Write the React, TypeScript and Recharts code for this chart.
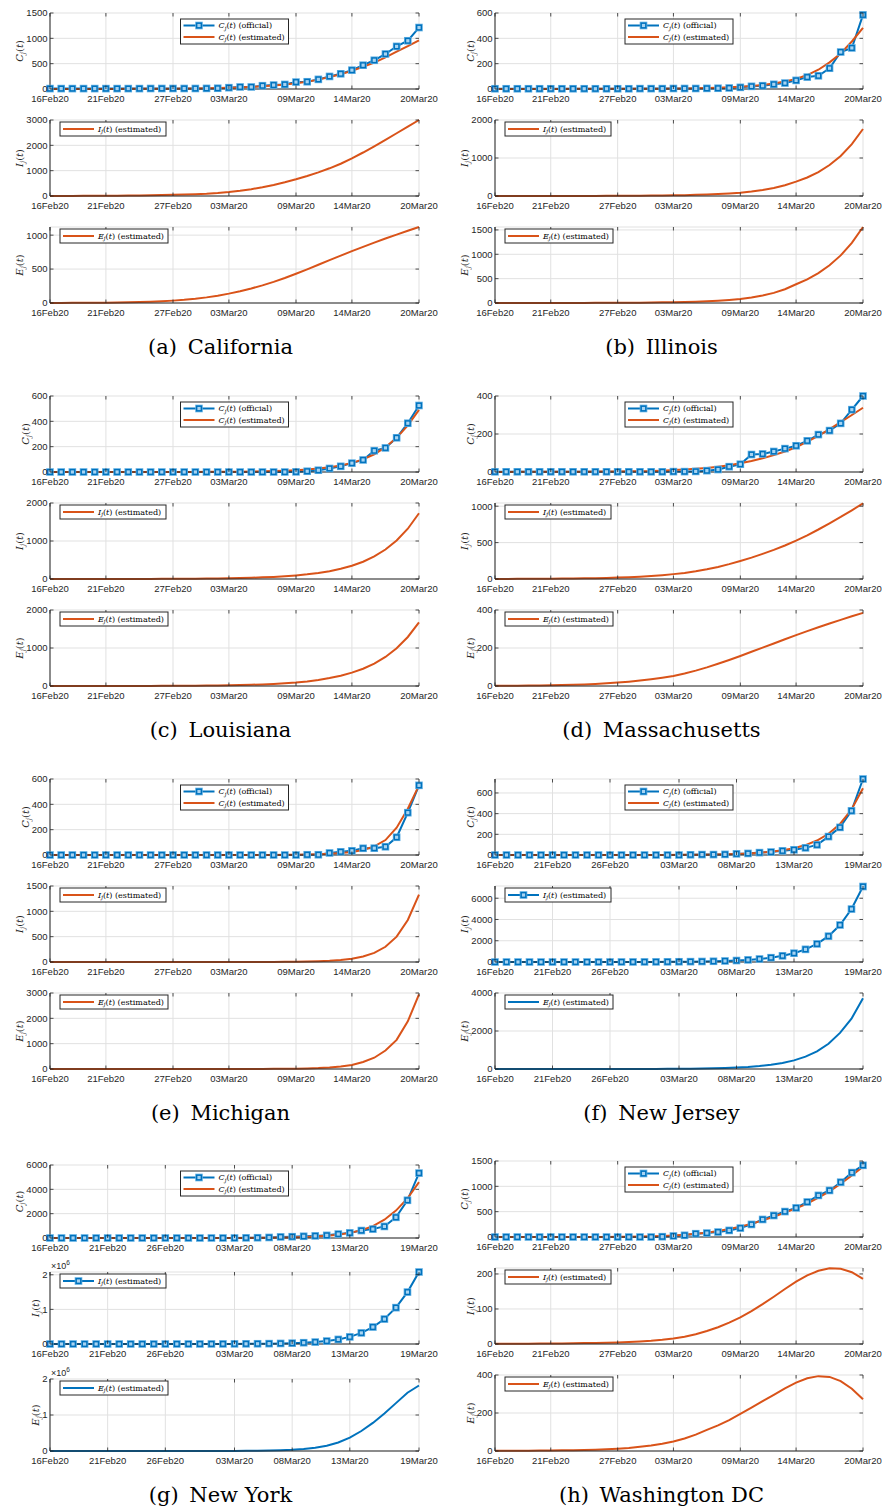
import React from 'react';
import { LineChart, Line, XAxis, YAxis, CartesianGrid } from 'recharts';

const BLUE = '#0072BD';
const ORANGE = '#D95319';
const INK = '#262626';
const GRID = '#e1e1e1';
const SANS = '"Liberation Sans", Arial, Helvetica, sans-serif';
const SERIF = '"DejaVu Serif", serif';

// categories
const DATES_20 = [
  '16Feb20', '17Feb20', '18Feb20', '19Feb20', '20Feb20', '21Feb20', '22Feb20', '23Feb20', '24Feb20',
  '25Feb20', '26Feb20', '27Feb20', '28Feb20', '29Feb20', '01Mar20', '02Mar20', '03Mar20', '04Mar20',
  '05Mar20', '06Mar20', '07Mar20', '08Mar20', '09Mar20', '10Mar20', '11Mar20', '12Mar20', '13Mar20',
  '14Mar20', '15Mar20', '16Mar20', '17Mar20', '18Mar20', '19Mar20', '20Mar20',
];
const DATES_19 = DATES_20.slice(0, 33);
const TICKS_20 = ['16Feb20', '21Feb20', '27Feb20', '03Mar20', '09Mar20', '14Mar20', '20Mar20'];
const TICKS_19 = ['16Feb20', '21Feb20', '26Feb20', '03Mar20', '08Mar20', '13Mar20', '19Mar20'];

// (a) California
const CA_C_OFF = [8, 8, 8, 8, 8, 8, 8, 8, 8, 10, 10, 10, 10, 10, 12, 15, 26, 40, 40, 65, 78, 90, 137, 143, 190, 248, 300, 372, 470, 567, 691, 841, 952, 1213];
const CA_C_EST = [1, 1, 1, 1, 2, 2, 2, 3, 3, 4, 5, 6, 8, 11, 15, 19, 25, 32, 42, 54, 70, 90, 115, 145, 185, 235, 290, 358, 440, 521, 626, 737, 845, 960];
const CA_I = [2, 3, 4, 6, 8, 10, 13, 17, 22, 28, 36, 46, 58, 72, 90, 118, 158, 208, 270, 346, 436, 541, 658, 788, 933, 1093, 1273, 1487, 1717, 1962, 2217, 2477, 2739, 3000];
const CA_E = [1, 1, 2, 3, 4, 5, 7, 10, 14, 19, 26, 35, 47, 63, 83, 108, 138, 173, 214, 260, 312, 369, 431, 496, 563, 631, 698, 764, 828, 890, 950, 1008, 1065, 1120];

// (b) Illinois
const IL_C_OFF = [2, 2, 2, 2, 2, 2, 2, 2, 2, 2, 2, 2, 2, 3, 3, 3, 4, 4, 4, 5, 6, 8, 13, 21, 26, 37, 47, 68, 94, 104, 164, 292, 324, 585];
const IL_C_EST = [0.3, 0.4, 0.5, 0.6, 0.7, 0.8, 0.9, 1, 1.1, 1.2, 1.3, 1.4, 1.5, 1.6, 2, 2.5, 3.2, 4.2, 5.6, 7.5, 10, 13.5, 18, 24, 32, 43, 59, 80, 110, 152, 210, 280, 375, 483];
const IL_I = [0.3, 0.4, 0.5, 0.7, 0.9, 1.1, 1.4, 1.8, 2.3, 3, 4, 5, 6.5, 8, 11, 14, 18, 23, 30, 39, 51, 67, 88, 118, 158, 211, 282, 377, 487, 630, 815, 1054, 1363, 1763];
const IL_E = [0.25, 0.3, 0.4, 0.55, 0.7, 0.9, 1.2, 1.6, 2, 2.6, 3.4, 4.5, 5.8, 7.5, 10, 13, 17, 22, 28, 37, 48, 63, 83, 113, 153, 208, 283, 385, 486, 613, 774, 977, 1233, 1560];

// (c) Louisiana
const LA_C_OFF = [0, 0, 0, 0, 0, 0, 0, 0, 0, 0, 0, 0, 0, 0, 0, 0, 0, 0, 0, 0, 0, 0, 1, 6, 14, 28, 45, 70, 95, 168, 190, 270, 385, 525];
const LA_C_EST = [0.1, 0.1, 0.1, 0.1, 0.1, 0.2, 0.2, 0.2, 0.3, 0.3, 0.4, 0.5, 0.6, 0.8, 1, 1.4, 1.9, 2.6, 3.6, 5, 7, 10, 14, 19, 27, 37, 52, 72, 100, 140, 196, 270, 368, 490];
const LA_I = [0.3, 0.4, 0.5, 0.65, 0.85, 1.1, 1.4, 1.9, 2.4, 3.1, 4, 5.3, 7, 9, 11.5, 15, 19, 25, 33, 43, 55, 72, 94, 122, 158, 206, 268, 348, 455, 594, 775, 1013, 1323, 1730];
const LA_E = [0.3, 0.4, 0.5, 0.65, 0.85, 1.1, 1.4, 1.8, 2.3, 3, 3.9, 5.1, 6.6, 8.6, 11, 14.5, 19, 25, 32, 42, 55, 71, 92, 120, 158, 208, 270, 351, 455, 590, 765, 993, 1290, 1675];

// (d) Massachusetts
const MA_C_OFF = [1, 1, 1, 1, 1, 1, 1, 1, 1, 1, 1, 1, 1, 1, 1, 1, 2, 2, 3, 7, 13, 28, 41, 92, 95, 108, 123, 138, 164, 197, 218, 256, 328, 400];
const MA_C_EST = [0.5, 0.6, 0.7, 0.8, 1, 1.2, 1.4, 1.6, 1.9, 2.2, 2.6, 3, 3.6, 4.3, 5, 7, 10, 13, 17, 21, 28, 36, 46, 58, 72, 89, 108, 130, 160, 190, 226, 262, 300, 338];
const MA_I = [1, 1.5, 2, 3, 4, 5, 6, 8, 10, 12, 15, 19, 25, 32, 41, 53, 67, 84, 106, 133, 166, 204, 248, 293, 345, 400, 460, 527, 600, 680, 765, 852, 944, 1040];
const MA_E = [1, 1, 1.5, 2, 3, 4, 5, 6.5, 8.5, 11, 14, 18, 23, 29, 36, 44, 53, 66, 81, 98, 117, 137, 158, 180, 202, 224, 246, 268, 289, 309, 329, 348, 367, 385];

// (e) Michigan
const MI_C_OFF = [0, 0, 0, 0, 0, 0, 0, 0, 0, 0, 0, 0, 0, 0, 0, 0, 0, 0, 0, 0, 0, 0, 0, 2, 2, 16, 25, 33, 53, 54, 65, 140, 334, 550];
const MI_C_EST = [0, 0, 0, 0, 0, 0, 0, 0, 0, 0, 0, 0.05, 0.05, 0.05, 0.1, 0.1, 0.15, 0.2, 0.3, 0.5, 0.8, 1.3, 2, 3.4, 5.5, 9, 15, 24, 40, 68, 118, 215, 365, 550];
const MI_I = [0.1, 0.1, 0.1, 0.1, 0.1, 0.1, 0.1, 0.1, 0.1, 0.1, 0.1, 0.1, 0.1, 0.1, 0.1, 0.2, 0.3, 0.5, 0.8, 1.2, 2, 3.3, 5.5, 9, 15, 24, 40, 65, 108, 180, 300, 500, 830, 1330];
const MI_E = [0.1, 0.1, 0.1, 0.1, 0.1, 0.1, 0.1, 0.1, 0.1, 0.1, 0.1, 0.1, 0.1, 0.1, 0.1, 0.4, 0.7, 1.1, 1.8, 3, 5, 8, 13, 22, 36, 60, 100, 160, 275, 445, 730, 1150, 1880, 2950];

// (f) New Jersey
const NJ_C_OFF = [0, 0, 0, 0, 0, 0, 0, 0, 0, 0, 0, 0, 0, 0, 0, 0, 0, 2, 4, 4, 6, 11, 15, 23, 29, 40, 50, 69, 98, 178, 267, 427, 735];
const NJ_C_EST = [0.1, 0.1, 0.1, 0.1, 0.1, 0.1, 0.1, 0.1, 0.1, 0.1, 0.2, 0.25, 0.35, 0.5, 0.7, 1, 1.5, 2.2, 3.2, 4.7, 6.8, 10, 14.5, 21, 31, 45, 66, 96, 140, 205, 300, 440, 645];
const NJ_I = [0.07, 0.1, 0.15, 0.2, 0.3, 0.45, 0.65, 0.9, 1.3, 1.9, 2.7, 3.8, 5.5, 8, 11, 16, 23, 33, 47, 68, 97, 138, 198, 283, 405, 580, 830, 1190, 1700, 2430, 3480, 4980, 7100];
const NJ_E = [0.04, 0.06, 0.08, 0.12, 0.17, 0.25, 0.35, 0.5, 0.7, 1, 1.5, 2.1, 3, 4.3, 6.2, 8.8, 12.6, 18, 26, 37, 53, 76, 108, 155, 222, 318, 455, 650, 930, 1330, 1900, 2650, 3720];

// (g) New York
const NY_C_OFF = [0, 0, 0, 0, 0, 0, 0, 0, 0, 0, 0, 0, 0, 0, 1, 1, 2, 11, 22, 44, 89, 106, 142, 173, 217, 326, 421, 613, 732, 950, 1700, 3100, 5335];
const NY_C_EST = [0.2, 0.2, 0.2, 0.2, 0.2, 0.2, 0.2, 0.2, 0.2, 0.3, 0.5, 0.7, 1.1, 1.7, 2.6, 4, 6, 9, 14, 22, 33, 50, 77, 118, 180, 275, 420, 640, 980, 1500, 2250, 3250, 4590];
const NY_I = [4, 6, 9, 14, 21, 32, 48, 72, 110, 165, 250, 380, 570, 860, 1300, 2000, 3000, 4600, 7000, 10500, 16000, 24500, 37000, 56000, 86000, 132000, 205000, 320000, 490000, 720000, 1050000, 1500000, 2080000];
const NY_E = [1, 1.5, 2.5, 4, 6, 10, 16, 26, 43, 72, 120, 200, 330, 540, 900, 1500, 2500, 4200, 7000, 11500, 19000, 32000, 53000, 88000, 145000, 235000, 370000, 555000, 780000, 1040000, 1330000, 1620000, 1820000];

// (h) Washington DC
const DC_C_OFF = [0, 0, 0, 0, 0, 0, 0, 0, 0, 0, 0, 0, 0, 0, 0, 6, 20, 33, 65, 78, 98, 130, 176, 248, 346, 424, 502, 574, 691, 821, 919, 1082, 1271, 1415];
const DC_C_EST = [0.2, 0.3, 0.4, 0.5, 0.6, 0.7, 0.8, 1, 1.1, 1.6, 2.4, 3.6, 5.5, 8.5, 13, 20, 30, 44, 62, 86, 118, 157, 205, 262, 328, 400, 480, 565, 660, 775, 900, 1050, 1215, 1385];
const DC_I = [0.5, 0.6, 0.7, 0.9, 1.1, 1.3, 1.6, 2, 2.5, 3, 3.7, 4.6, 5.7, 7.2, 9.2, 12, 16, 21, 28, 37, 48, 61, 76, 94, 114, 135, 157, 178, 196, 209, 216, 215, 205, 186];
const DC_E = [0.8, 1, 1.3, 1.6, 2, 2.6, 3.3, 4.2, 5.4, 7, 9, 12, 16, 22, 29, 38, 50, 66, 86, 111, 135, 163, 195, 228, 262, 296, 330, 360, 383, 394, 390, 368, 328, 272];

type Panel = {
  label: string;
  name: string;
  col: 0 | 1;
  row: number;
  dates: string[];
  ticks: string[];
  cOff: number[];
  cEst: number[];
  inf: number[];
  exp: number[];
  cMax: number;
  cTicks: number[];
  iMax: number;
  iTicks: number[];
  eMax: number;
  eTicks: number[];
  ieColor: string;
  iMarker: boolean;
  sci?: boolean;
  boxes?: [number, number][];
};

const PANELS: Panel[] = [
  { label: '(a)', name: 'California', col: 0, row: 0, dates: DATES_20, ticks: TICKS_20, cOff: CA_C_OFF, cEst: CA_C_EST, inf: CA_I, exp: CA_E,
    cMax: 1500, cTicks: [0, 500, 1000, 1500], iMax: 3000, iTicks: [0, 1000, 2000, 3000], eMax: 1120, eTicks: [0, 500, 1000], ieColor: ORANGE, iMarker: false },
  { label: '(b)', name: 'Illinois', col: 1, row: 0, dates: DATES_20, ticks: TICKS_20, cOff: IL_C_OFF, cEst: IL_C_EST, inf: IL_I, exp: IL_E,
    cMax: 600, cTicks: [0, 200, 400, 600], iMax: 2000, iTicks: [0, 1000, 2000], eMax: 1560, eTicks: [0, 500, 1000, 1500], ieColor: ORANGE, iMarker: false },
  { label: '(c)', name: 'Louisiana', col: 0, row: 1, dates: DATES_20, ticks: TICKS_20, cOff: LA_C_OFF, cEst: LA_C_EST, inf: LA_I, exp: LA_E,
    cMax: 600, cTicks: [0, 200, 400, 600], iMax: 2000, iTicks: [0, 1000, 2000], eMax: 2000, eTicks: [0, 1000, 2000], ieColor: ORANGE, iMarker: false },
  { label: '(d)', name: 'Massachusetts', col: 1, row: 1, dates: DATES_20, ticks: TICKS_20, cOff: MA_C_OFF, cEst: MA_C_EST, inf: MA_I, exp: MA_E,
    cMax: 400, cTicks: [0, 200, 400], iMax: 1044, iTicks: [0, 500, 1000], eMax: 400, eTicks: [0, 200, 400], ieColor: ORANGE, iMarker: false },
  { label: '(e)', name: 'Michigan', col: 0, row: 2, dates: DATES_20, ticks: TICKS_20, cOff: MI_C_OFF, cEst: MI_C_EST, inf: MI_I, exp: MI_E,
    cMax: 600, cTicks: [0, 200, 400, 600], iMax: 1500, iTicks: [0, 500, 1000, 1500], eMax: 3000, eTicks: [0, 1000, 2000, 3000], ieColor: ORANGE, iMarker: false },
  { label: '(f)', name: 'New Jersey', col: 1, row: 2, dates: DATES_19, ticks: TICKS_19, cOff: NJ_C_OFF, cEst: NJ_C_EST, inf: NJ_I, exp: NJ_E,
    cMax: 735, cTicks: [0, 200, 400, 600], iMax: 7150, iTicks: [0, 2000, 4000, 6000], eMax: 4000, eTicks: [0, 2000, 4000], ieColor: BLUE, iMarker: true },
  { label: '(g)', name: 'New York', col: 0, row: 3, dates: DATES_19, ticks: TICKS_19, cOff: NY_C_OFF, cEst: NY_C_EST, inf: NY_I, exp: NY_E,
    cMax: 6000, cTicks: [0, 2000, 4000, 6000], iMax: 2080000, iTicks: [0, 1000000, 2000000], eMax: 2000000, eTicks: [0, 1000000, 2000000],
    ieColor: BLUE, iMarker: true, sci: true, boxes: [[1165, 1238], [1272, 1344], [1379, 1451]] },
  { label: '(h)', name: 'Washington DC', col: 1, row: 3, dates: DATES_20, ticks: TICKS_20, cOff: DC_C_OFF, cEst: DC_C_EST, inf: DC_I, exp: DC_E,
    cMax: 1500, cTicks: [0, 500, 1000, 1500], iMax: 217, iTicks: [0, 100, 200], eMax: 400, eTicks: [0, 200, 400], ieColor: ORANGE, iMarker: false },
];

const ROW_OFF = [0, 383, 766, 1148];
const BASE_BOXES: [number, number][] = [[13, 89], [120, 196], [227, 303]];
const CAP_BASE = 354;
const MT = 14;
const XH = 20;
const TL = 3.5;

function Square({ cx, cy }: { cx: number; cy: number }) {
  return (
    <g>
      <rect x={cx - 3.8} y={cy - 3.8} width={7.6} height={7.6} fill="#5aace2" />
      <rect x={cx - 2.3} y={cy - 2.3} width={4.6} height={4.6} fill="#a8d4f2" stroke={BLUE} strokeWidth={1.4} />
    </g>
  );
}

function Sym({ x, y, sym, note, size }: { x: number; y: number; sym: string; note: string; size: number }) {
  const sub = size * 0.2;
  return (
    <text x={x} y={y} fontFamily={SERIF} fontSize={size} fill="#000">
      <tspan fontStyle="italic">{sym}</tspan>
      <tspan fontStyle="italic" fontSize={size * 0.7} dy={sub}>j</tspan>
      <tspan dy={-sub}>(</tspan>
      <tspan fontStyle="italic">t</tspan>
      <tspan>{')' + note}</tspan>
    </text>
  );
}

function Sub({ p, k }: { p: Panel; k: number }) {
  const colX = p.col === 0 ? 0 : 441;
  const cw = 441;
  const pl = (p.col === 0 ? 50 : 495) - colX;
  const pr = (p.col === 0 ? 419 : 863) - colX;
  const boxes = p.boxes ?? BASE_BOXES.map(([a, b]) => [a + ROW_OFF[p.row], b + ROW_OFF[p.row]] as [number, number]);
  const [top, bottom] = boxes[k];
  const ph = bottom - top;
  const ch = ph + MT + XH;
  const pt = MT;
  const pb = MT + ph;
  const yMax = [p.cMax, p.iMax, p.eMax][k];
  const yTicks = [p.cTicks, p.iTicks, p.eTicks][k];
  const sym = ['C', 'I', 'E'][k];
  const sci = !!p.sci && k > 0;
  const fmt = (v: number) => (sci ? String(v / 1e6) : String(v));
  const data = p.dates.map((date, i) => ({ date, co: p.cOff[i], ce: p.cEst[i], inf: p.inf[i], exp: p.exp[i] }));

  const xTick = (props: any) => {
    const { x, payload } = props;
    return (
      <g>
        <line x1={x} x2={x} y1={pb} y2={pb - TL} stroke={INK} strokeWidth={0.8} />
        <line x1={x} x2={x} y1={pt} y2={pt + TL} stroke={INK} strokeWidth={0.8} />
        <text x={x} y={pb + 12.5} textAnchor="middle" fontSize={9.5} fontFamily={SANS} fill={INK}>
          {payload.value}
        </text>
      </g>
    );
  };
  const yTick = (props: any) => {
    const { y, payload } = props;
    return (
      <g>
        <line x1={pl} x2={pl + TL} y1={y} y2={y} stroke={INK} strokeWidth={0.8} />
        <line x1={pr} x2={pr - TL} y1={y} y2={y} stroke={INK} strokeWidth={0.8} />
        <text x={pl - 2.5} y={y + 3.4} textAnchor="end" fontSize={9.5} fontFamily={SANS} fill={INK}>
          {fmt(payload.value)}
        </text>
      </g>
    );
  };
  const dot = (d: any) => <Square key={`m${d.index}`} cx={d.cx} cy={d.cy} />;

  const lines =
    k === 0
      ? [
          <Line key="co" type="linear" dataKey="co" stroke={BLUE} strokeWidth={2} dot={dot} activeDot={false} isAnimationActive={false} />,
          <Line key="ce" type="linear" dataKey="ce" stroke={ORANGE} strokeWidth={2} dot={false} activeDot={false} isAnimationActive={false} />,
        ]
      : k === 1
      ? [<Line key="inf" type="linear" dataKey="inf" stroke={p.ieColor} strokeWidth={2} dot={p.iMarker ? dot : false} activeDot={false} isAnimationActive={false} />]
      : [<Line key="exp" type="linear" dataKey="exp" stroke={p.ieColor} strokeWidth={2} dot={false} activeDot={false} isAnimationActive={false} />];

  const entries =
    k === 0
      ? [
          { color: BLUE, marker: true, note: ' (official)' },
          { color: ORANGE, marker: false, note: ' (estimated)' },
        ]
      : [{ color: p.ieColor, marker: k === 1 && p.iMarker, note: ' (estimated)' }];
  const bw = k === 1 ? 106 : 108;
  const bh = k === 0 ? 25 : 14;
  const bx = k === 0 ? pl + (pr - pl - bw) / 2 : pl + 10;
  const by = k === 0 ? pt + 6 : pt + 2;
  const rowY = k === 0 ? [by + 6.5, by + 18] : [by + 7];

  const tickW = Math.max(...yTicks.map((t) => fmt(t).length)) * 5.3;
  const lx = pl - tickW - 9 + 3.6;
  const ly = pt + ph / 2;

  return (
    <div style={{ position: 'absolute', left: colX, top: top - MT, width: cw, height: ch }}>
      <LineChart width={cw} height={ch} data={data} margin={{ top: MT, right: cw - pr, bottom: 0, left: 0 }}>
        <CartesianGrid stroke={GRID} strokeWidth={1} />
        <XAxis dataKey="date" type="category" ticks={p.ticks} interval={0} height={XH} axisLine={{ stroke: INK }} tickLine={false} tick={xTick} />
        <YAxis type="number" domain={[0, yMax]} ticks={yTicks} interval={0} width={pl} axisLine={{ stroke: INK }} tickLine={false} tick={yTick} />
        <XAxis xAxisId="top" orientation="top" dataKey="date" type="category" height={0} tick={false} tickLine={false} axisLine={{ stroke: INK }} />
        <YAxis yAxisId="right" orientation="right" type="number" domain={[0, 1]} width={0} tick={false} tickLine={false} axisLine={{ stroke: INK }} />
        {lines}
      </LineChart>
      <svg width={cw} height={ch} style={{ position: 'absolute', left: 0, top: 0, pointerEvents: 'none' }}>
        <text transform={`rotate(-90 ${lx} ${ly})`} x={lx} y={ly} textAnchor="middle" fontFamily={SERIF} fontSize={10} fill={INK}>
          <tspan fontStyle="italic">{sym}</tspan>
          <tspan fontStyle="italic" fontSize={7} dy={2}>j</tspan>
          <tspan dy={-2}>(</tspan>
          <tspan fontStyle="italic">t</tspan>
          <tspan>)</tspan>
        </text>
        {sci && (
          <text x={pl + 1} y={pt - 3} fontFamily={SANS} fontSize={9} fill={INK}>
            ×10<tspan fontSize={6.5} dy={-4}>6</tspan>
          </text>
        )}
        <rect x={bx} y={by} width={bw} height={bh} fill="#fff" stroke={INK} strokeWidth={1} />
        {entries.map((e, j) => (
          <g key={j}>
            <line x1={bx + 3} x2={bx + 34} y1={rowY[j]} y2={rowY[j]} stroke={e.color} strokeWidth={2} />
            {e.marker && <Square cx={bx + 18.5} cy={rowY[j]} />}
            <Sym x={bx + 38} y={rowY[j] + 2.8} sym={sym} note={e.note} size={8} />
          </g>
        ))}
      </svg>
    </div>
  );
}

function Caption({ p }: { p: Panel }) {
  const colX = p.col === 0 ? 0 : 441;
  const base = CAP_BASE + ROW_OFF[p.row];
  return (
    <svg width={441} height={40} style={{ position: 'absolute', left: colX, top: base - 30 }}>
      <text x={220.5} y={30} textAnchor="middle" fontFamily={SERIF} fontSize={21} fill="#000">
        {p.label}
        <tspan dx={4}>{' ' + p.name}</tspan>
      </text>
    </svg>
  );
}

export default function App() {
  return (
    <div style={{ position: 'absolute', left: 0, top: 0, width: 882, height: 1510, background: '#fff', overflow: 'hidden' }}>
      {PANELS.map((p) => (
        <React.Fragment key={p.label}>
          {[0, 1, 2].map((k) => (
            <Sub key={k} p={p} k={k} />
          ))}
          <Caption p={p} />
        </React.Fragment>
      ))}
    </div>
  );
}
